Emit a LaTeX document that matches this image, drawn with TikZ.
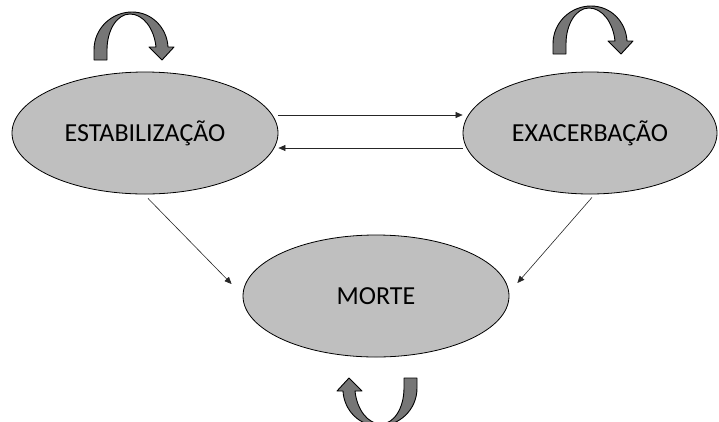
\documentclass[tikz,border=0pt]{standalone}
\usepackage{fontspec}
\setmainfont{Carlito}
\usetikzlibrary{shapes.geometric,arrows.meta}
\definecolor{ellfill}{RGB}{191,191,191}
\definecolor{arrfill}{RGB}{118,118,118}
\tikzset{
  state/.style={ellipse, draw=black, line width=0.8pt, fill=ellfill, inner sep=0pt,
    minimum width=266pt, minimum height=122pt, font=\fontsize{26}{30}\selectfont},
  conn/.style={line width=0.6pt, draw=black!85, -{Triangle[length=7pt,width=6pt]}},
  loopshape/.style={fill=arrfill, draw=black, line width=0.9pt, line join=round},
  curvarrow/.pic={
    \path[loopshape] (0,0) -- (0,-10) .. controls (0,-32) and (18,-48) .. (38,-48)
      .. controls (58,-48) and (73,-32) .. (74,-13) -- (80,-13) -- (68,0) -- (55,-13)
      -- (62,-13) .. controls (60,-32) and (49,-46) .. (36,-46)
      .. controls (23,-46) and (13,-30) .. (13,-10) -- (13,0) -- cycle;
  }
}
\begin{document}
\begin{tikzpicture}[x=1pt,y=-1pt]
\useasboundingbox (0,0) rectangle (719,421);
\clip (0,0) rectangle (719,421);
\node[state] (L) at (145,133) {ESTABILIZAÇÃO};
\node[state, minimum width=254pt] (R) at (590,133) {EXACERBAÇÃO};
\node[state] (M) at (376,296) {MORTE};
\draw[conn] ([yshift=18pt]L.east) -- ([yshift=18pt]R.west);
\draw[conn] ([yshift=-15pt]R.west) -- ([yshift=-15pt]L.east);
\draw[conn] ([xshift=3pt,yshift=-4pt]L.south) -- ([xshift=-11pt,yshift=12pt]M.west);
\draw[conn] ([xshift=2pt,yshift=-3pt]R.south) -- ([xshift=8pt,yshift=13pt]M.east);
\pic at (94,60) {curvarrow};
\pic at (553,54) {curvarrow};
\pic[rotate=180] at (417,378) {curvarrow};
\end{tikzpicture}
\end{document}
